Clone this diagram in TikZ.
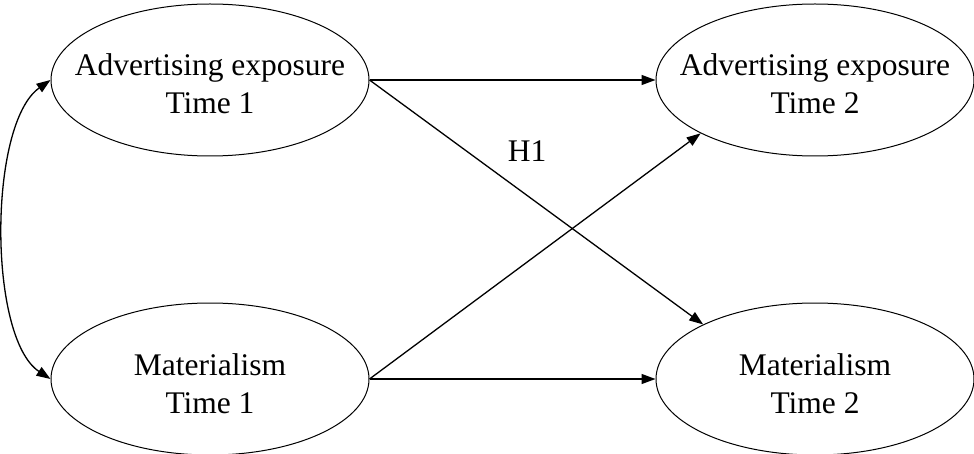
\documentclass[tikz,border=0pt]{standalone}
\usepackage{fontspec}
\setmainfont{Liberation Serif}
\usetikzlibrary{shapes.geometric,arrows.meta}
\tikzset{
  ell/.style={draw=black, line width=1pt, ellipse, minimum width=318pt, minimum height=152pt, inner sep=0pt},
  lbl/.style={align=center, font=\fontsize{31.5}{38}\selectfont, inner sep=0pt},
  conn/.style={line width=1.3pt, -{Triangle[length=14pt,width=10pt]}},
  biconn/.style={line width=1.3pt, {Triangle[length=14pt,width=10pt]}-{Triangle[length=14pt,width=10pt]}},
}
\begin{document}
\begin{tikzpicture}[x=1pt,y=-1pt]
\useasboundingbox (0,0) rectangle (974,454);
\node[ell] (tl) at (210,80) {};
\node[ell] (tr) at (815,80) {};
\node[ell] (bl) at (210,379) {};
\node[ell] (br) at (815,379) {};
\node[lbl] (tlt) at (210,84) {Advertising exposure\\Time 1};
\node[lbl] (trt) at (815,84) {Advertising exposure\\Time 2};
\node[lbl] (blt) at (210,384) {Materialism\\Time 1};
\node[lbl] (brt) at (815,384) {Materialism\\Time 2};
\draw[conn] (tl.east) -- (tr.west);
\draw[conn] (bl.east) -- (br.west);
\draw[conn] (tl.east) -- (br.154);
\draw[conn] (bl.east) -- (tr.205);
\draw[biconn] (tl.west) .. controls (-12,124) and (-12,338) .. (bl.west);
\node[lbl] (h1) at (527,151) {H1};
\end{tikzpicture}
\end{document}
